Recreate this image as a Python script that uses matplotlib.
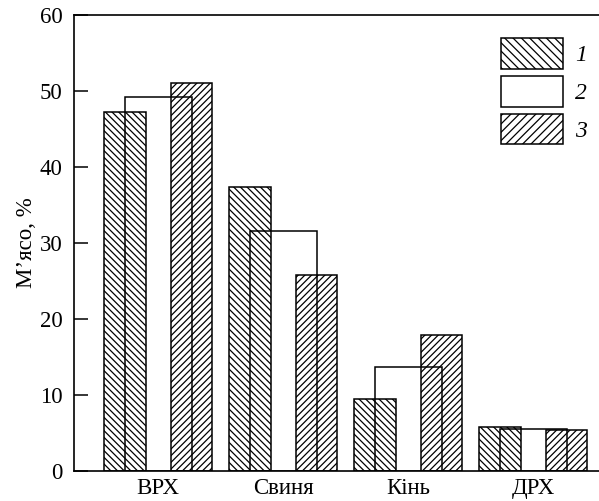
import numpy as np
import matplotlib
matplotlib.use("Agg")
import matplotlib.pyplot as plt
import matplotlib.patches as mpatches

# === データ ===
categories = ["ВРХ", "Свиня", "Кінь", "ДРХ"]
series1 = [47.2, 37.4, 9.5, 5.7]
series2 = [49.2, 31.6, 13.7, 5.5]
series3 = [51.1, 25.8, 17.9, 5.3]
series_labels = ["1", "2", "3"]
yticks = [0, 10, 20, 30, 40, 50, 60]

plt.rcParams['font.family'] = ['Liberation Serif', 'DejaVu Serif']
plt.rcParams['hatch.linewidth'] = 0.9

fig = plt.figure(figsize=(5.99, 5.01), dpi=100)
ax = fig.add_axes([0.123, 0.0605, 0.877, 0.909])

x = np.arange(len(categories))
off = 0.266
w_side = 0.333
w_mid = 0.533

# 2 は白地を後ろに、枠線を前に
ax.bar(x, series2, width=w_mid, color='white', edgecolor='none', zorder=1)
ax.bar(x - off, series1, width=w_side, color='white', edgecolor='black',
       hatch='\\' * 5, linewidth=1.1, zorder=2)
ax.bar(x + off, series3, width=w_side, color='white', edgecolor='black',
       hatch='/' * 5, linewidth=1.1, zorder=2)
ax.bar(x, series2, width=w_mid, fill=False, edgecolor='black',
       linewidth=1.1, zorder=3)

ax.set_xlim(-0.677, 3.526)
ax.set_ylim(0, 60)
ax.set_xticks(x)
ax.set_xticklabels(categories, fontsize=16.5)
ax.tick_params(axis='x', length=0, pad=5)
ax.set_yticks(yticks)
ax.tick_params(axis='y', direction='in', length=10, width=1.1,
               labelsize=16.5, pad=8)
ax.set_ylabel("М’ясо, %", fontsize=16.5, labelpad=2)

ax.spines['right'].set_visible(False)
for s in ['left', 'top', 'bottom']:
    ax.spines[s].set_linewidth(1.2)

# --- 凡例 ---
handles = [
    mpatches.Patch(facecolor='white', edgecolor='black', hatch='\\' * 4, linewidth=1.1),
    mpatches.Patch(facecolor='white', edgecolor='black', linewidth=1.1),
    mpatches.Patch(facecolor='white', edgecolor='black', hatch='/' * 4, linewidth=1.1),
]
leg = fig.legend(handles=handles, labels=series_labels, loc='upper left',
                 bbox_to_anchor=(0.8364, 0.9236), frameon=False, borderpad=0,
                 handlelength=2.62, handleheight=1.62, labelspacing=0.3,
                 handletextpad=0.5, borderaxespad=0,
                 prop={'size': 17, 'style': 'italic'})

fig.savefig("out.png", dpi=100)
